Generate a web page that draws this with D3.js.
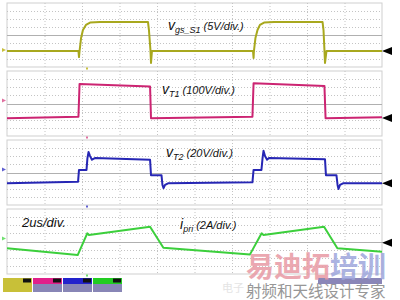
<!DOCTYPE html>
<html><head><meta charset="utf-8">
<script src="https://cdn.jsdelivr.net/npm/d3@7"></script>
<style>html,body{margin:0;padding:0;background:#fff}svg{display:block}</style>
</head><body><svg id="c" width="400" height="300"></svg>
<script>
// ---- data (time in us, values in V / A) ----
const timeDivs = [0,2,4,6,8,10,12,14,16,18,20];
const vgsT = [0,3.81,3.84,3.87,3.95,4.05,4.21,4.43,4.96,7.52,7.57,7.65,7.68,7.73,13.12,13.15,13.17,13.25,13.36,13.49,13.71,14.24,16.83,16.88,16.93,16.96,17.04,20];
const vgsV = [0,0,-3.8,0,8.1,13.1,16.3,17.8,18.1,18.1,13.1,0.6,-7.5,0,0,-4.4,0,8.1,13.1,16.3,17.8,18.1,18.1,13.1,0.6,-7.5,0,0];
const vt1T = [0,3.81,3.87,7.63,7.68,13.09,13.15,16.93,16.99,20];
const vt1V = [-4,16,420,387,-4,16,428,395,-4,9];
const vt2T = [0,3.79,3.84,4.24,4.29,4.35,4.43,4.53,4.69,7.63,7.68,8.24,8.29,8.35,8.43,8.59,13.09,13.15,13.57,13.63,13.68,13.76,13.87,13.97,16.96,17.01,17.57,17.63,17.68,17.76,17.92,20];
const vt2V = [0,4,33,33,62,77,67,58,62,58,20,20,-4,-12,-4,0,2.5,33,33,62,80,67,58,62,59,20,20,-4,-14,-4,0,0];
const ipriT = [0,3.77,4.28,4.37,7.63,8.34,12.96,13.58,13.68,16.91,17.62,20];
const ipriA = [-1.38,-3.04,2.32,1.9,3.95,-1.24,-2.87,2.32,1.9,3.95,-1.38,-2.22];
const channelNames = ["vgs","vT1","vT2","ipri"];
const voltsPerDiv = [5,100,20,2];
const zeroDivsFromBottom = [2,2.215,2.67,3.85];

const svg = d3.select("#c");
const x = d3.scaleLinear().domain([0,20]).range([7,382]);

const panels = [
  {top:3, bottom:67, color:"#a8a81e", t:vgsT, v:vgsV, mark:"#c8c040"},
  {top:71, bottom:136, color:"#cc2472", t:vt1T, v:vt1V, mark:"#e070a0"},
  {top:140, bottom:205, color:"#2626b4", t:vt2T, v:vt2V, mark:"#6060d0"},
  {top:209, bottom:274, color:"#3ccf3c", t:ipriT, v:ipriA, mark:"#70e070"}
];

panels.forEach((p,i)=>{
  const lo = -zeroDivsFromBottom[i]*voltsPerDiv[i];
  const hi = lo + 8*voltsPerDiv[i];
  const y = d3.scaleLinear().domain([lo,hi]).range([p.bottom,p.top]);
  const g = svg.append("g");
  g.append("rect").attr("x",7).attr("y",p.top).attr("width",375).attr("height",p.bottom-p.top)
    .attr("fill","#fff").attr("stroke","#cfcfcf").attr("stroke-width",1);
  g.selectAll("line.v").data(timeDivs.slice(1,-1)).enter().append("line")
    .attr("x1",d=>x(d)+0.5).attr("x2",d=>x(d)+0.5).attr("y1",p.top).attr("y2",p.bottom)
    .attr("stroke","#c4c4c4").attr("stroke-dasharray","1,2");
  const hdivs = d3.range(1,8).map(k=>lo+k*voltsPerDiv[i]);
  g.selectAll("line.h").data(hdivs).enter().append("line")
    .attr("x1",7).attr("x2",382).attr("y1",d=>Math.round(y(d))+0.5).attr("y2",d=>Math.round(y(d))+0.5)
    .attr("stroke",(d,k)=>k===3?"#b0b0b0":"#c4c4c4").attr("stroke-dasharray",(d,k)=>k===3?null:"1,2");
  const line = d3.line().x(d=>x(d[0])).y(d=>y(d[1]));
  g.append("path").datum(p.t.map((t,k)=>[t,p.v[k]])).attr("d",line)
    .attr("fill","none").attr("stroke",p.color).attr("stroke-width",2).attr("stroke-linejoin","round");
  const yz = y(0);
  g.append("path").attr("d",`M382,${yz} L392,${yz-4} L392,${yz+4} Z`).attr("fill","#000");
  g.append("path").attr("d",`M2,${(p.top+p.bottom)/2+ (i===0?15:-3)-2} l4,2 l-4,2 Z`).attr("fill",p.mark);
  g.append("rect").attr("x",86).attr("y",p.bottom+0.5).attr("width",2).attr("height",2).attr("fill",p.mark);
});

function label(xp, yp, main, sub, rest){
  const t = svg.append("text").attr("x",xp).attr("y",yp)
    .attr("font-family","Liberation Sans, Arial, sans-serif").attr("font-style","italic").attr("fill","#111");
  t.append("tspan").attr("font-size",14).text(main);
  t.append("tspan").attr("font-size",9).attr("dy",3).text(sub);
  t.append("tspan").attr("font-size",11).attr("dy",-3).text(rest);
}
label(168,30,"v","gs_S1"," (5V/div.)");
label(162,94,"v","T1"," (100V/div.)");
label(166,157,"v","T2"," (20V/div.)");
label(180,229,"i","pri"," (2A/div.)");
svg.append("text").attr("x",22).attr("y",227).attr("font-family","Liberation Sans, Arial, sans-serif")
  .attr("font-style","italic").attr("font-size",13).attr("fill","#111").text("2us/div.");

const boxColors = ["#c8c038","#e0208a","#2222cc","#22cc22"];
boxColors.forEach((c,k)=>{
  const bx = 3+k*30;
  if(k===0){
    svg.append("rect").attr("x",bx).attr("y",278).attr("width",29).attr("height",14).attr("fill",c);
  } else {
    svg.append("rect").attr("x",bx).attr("y",278).attr("width",29).attr("height",6).attr("fill",c);
    svg.append("rect").attr("x",bx).attr("y",284).attr("width",29).attr("height",8).attr("fill","#8886b6");
  }
  svg.append("rect").attr("x",bx+20).attr("y",278.5).attr("width",8).attr("height",4).attr("fill","#111");
});

svg.append("text").attr("x",222).attr("y",292).attr("font-family","Noto Sans CJK SC").attr("font-size",11)
  .attr("fill","#e4e4e4").text("电子");
svg.append("rect").attr("x",318).attr("y",278).attr("width",64).attr("height",6).attr("fill","#8a86b8");
const wm = svg.append("text").attr("x",246).attr("y",277).attr("font-family","Noto Sans CJK SC")
  .attr("font-weight","bold").attr("font-size",28).attr("opacity",0.85);
wm.append("tspan").attr("fill","#e89aa4").text("易迪拓");
wm.append("tspan").attr("fill","#9ea6dc").text("培训");
svg.append("text").attr("x",246).attr("y",297).attr("font-family","Noto Sans CJK SC")
  .attr("font-size",15.5).attr("fill","#8c8c8c").attr("opacity",0.9).text("射频和天线设计专家");
</script></body></html>
